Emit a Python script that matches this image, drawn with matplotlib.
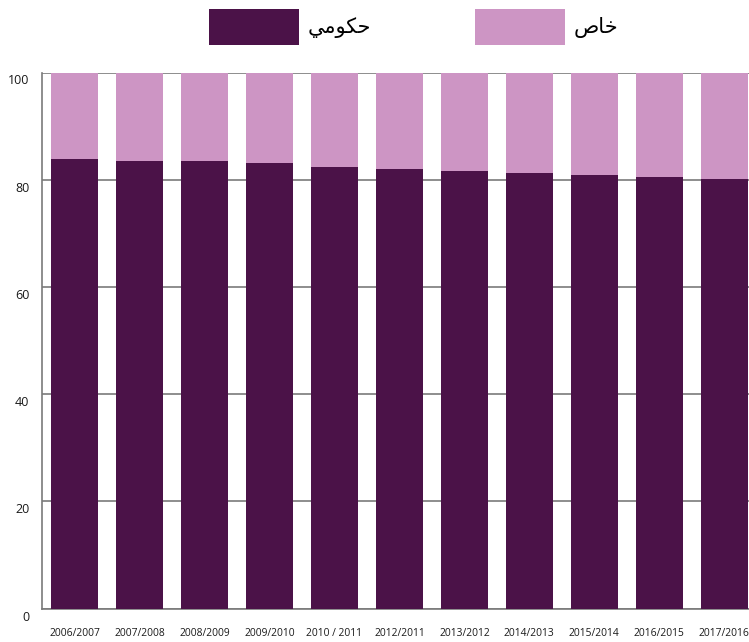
import numpy as np
import matplotlib
matplotlib.use('Agg')
import matplotlib.pyplot as plt
import matplotlib.transforms as mtransforms
from matplotlib.patches import Patch

# academic years
years = ['2006/2007', '2007/2008', '2008/2009', '2009/2010', '2010 / 2011',
         '2012/2011', '2013/2012', '2014/2013', '2015/2014', '2016/2015', '2017/2016']
# share (%) of public schooling, the rest is private
public = [83.9, 83.5, 83.5, 83.1, 82.4, 82.0, 81.6, 81.3, 80.9, 80.5, 80.2]
private = [100 - v for v in public]

# Arabic labels pre-shaped (presentation forms, visual order)
lab_public = '\uFEF2\uFEE3\uFEEE\uFEDC\uFEA3'   # حكومي
lab_private = '\uFEB9\uFE8E\uFEA7'              # خاص

yticks = [0, 20, 40, 60, 80, 100]

DARK = '#4b1248'
LIGHT = '#cd95c4'
GRID = '#7a7a7a'

plt.rcParams['font.family'] = ['Open Sans', 'DejaVu Sans']

fig = plt.figure(figsize=(7.49, 6.42), dpi=100)
ax = fig.add_axes([42/749, 33.3/642, 1 - 42/749, 536.2/642])

x = np.arange(len(years))
w = 0.72
ax.bar(x, public, w, color=DARK, zorder=3)
ax.bar(x, private, w, bottom=public, color=LIGHT, zorder=3)

ax.set_xlim(-0.5, 10.38)
ax.set_ylim(0, 100)
ax.set_yticks(yticks)
ax.set_yticklabels([str(t) for t in yticks], fontsize=9, color='#1a1a1a')
ax.set_xticks(x)
ax.set_xticklabels(years, fontsize=7.4, color='#1a1a1a')
ax.tick_params(axis='both', length=0)
ax.tick_params(axis='x', pad=14)
ax.tick_params(axis='y', pad=9)
off = mtransforms.ScaledTranslation(0, -7/100, fig.dpi_scale_trans)
for lbl in ax.get_yticklabels():
    lbl.set_transform(lbl.get_transform() + off)

ax.grid(axis='y', color=GRID, linewidth=1.2, zorder=0)
ax.set_axisbelow(True)
for s in ['top', 'right']:
    ax.spines[s].set_visible(False)
for s in ['left', 'bottom']:
    ax.spines[s].set_color(GRID)
    ax.spines[s].set_linewidth(1.2)

handles = [Patch(facecolor=DARK, label=lab_public),
           Patch(facecolor=LIGHT, label=lab_private)]
leg = fig.legend(handles=handles, loc='center', bbox_to_anchor=(413.5/749, 1 - 27/642),
                 ncol=2, frameon=False, prop={'family': 'DejaVu Sans', 'size': 15},
                 handlelength=4.33, handleheight=2.32, handletextpad=0.4,
                 columnspacing=5.0, borderpad=0)

plt.savefig('out.png', dpi=100)
